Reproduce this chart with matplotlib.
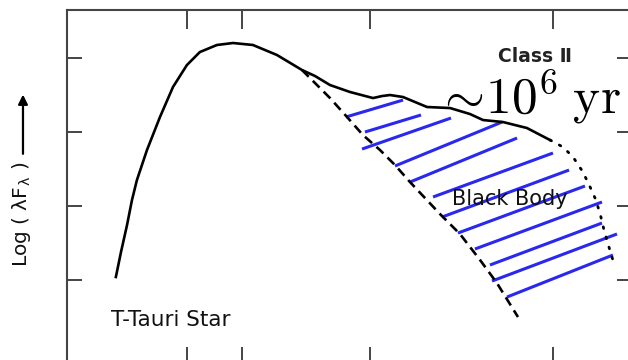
import matplotlib
matplotlib.use("Agg")
import matplotlib.pyplot as plt
import numpy as np

plt.rcParams["mathtext.fontset"] = "cm"

# observed T-Tauri SED (log wavelength in micron, log lambda*F_lambda, arbitrary offset)
sed_logl = [-0.689, -0.661, -0.628, -0.601, -0.574, -0.519, -0.448, -0.377, -0.301, -0.230,
            -0.137, -0.049, 0.060, 0.191, 0.328, 0.399, 0.481, 0.590, 0.716, 0.765,
            0.809, 0.880, 1.011, 1.137, 1.246, 1.317, 1.426, 1.557, 1.683]
sed_flux = [0.041, 0.378, 0.743, 1.081, 1.351, 1.757, 2.203, 2.608, 2.905, 3.081,
            3.176, 3.203, 3.176, 3.041, 2.838, 2.757, 2.635, 2.541, 2.459, 2.486,
            2.500, 2.473, 2.338, 2.324, 2.243, 2.162, 2.135, 2.054, 1.892]

# extrapolated long-wavelength tail
tail_logl = [1.683, 1.754, 1.809, 1.863, 1.902, 1.929, 1.956, 1.978, 2.005, 2.038]
tail_flux = [1.892, 1.797, 1.662, 1.459, 1.257, 1.108, 0.905, 0.676, 0.446, 0.176]

# stellar photosphere (black body)
bb_logl = [0.328, 0.481, 0.574, 0.661, 0.754, 0.836, 0.918, 1.000, 1.082, 1.191,
           1.301, 1.393, 1.508]
bb_flux = [2.838, 2.459, 2.203, 1.959, 1.757, 1.554, 1.324, 1.108, 0.892, 0.622,
           0.270, -0.041, -0.500]

# infrared excess hatching: start/end of each stroke
hatch_x0 = [0.568, 0.672, 0.656, 0.836, 0.918, 1.044, 1.093, 1.180, 1.273, 1.355, 1.366, 1.448]
hatch_y0 = [2.203, 2.000, 1.770, 1.541, 1.324, 1.122, 0.851, 0.635, 0.419, 0.203, -0.014, -0.230]
hatch_x1 = [0.880, 0.978, 1.142, 1.421, 1.503, 1.699, 1.787, 1.874, 1.967, 1.967, 2.049, 2.027]
hatch_y1 = [2.432, 2.230, 2.189, 2.135, 1.919, 1.716, 1.486, 1.270, 1.054, 0.770, 0.622, 0.338]

wavelength_ticks = [0.5, 1, 5, 50]
flux_ticks = [0, 1, 2, 3]

fig = plt.figure(figsize=(6.28, 3.6), dpi=100)
ax = fig.add_axes([67 / 628, -6 / 360, 565 / 628, 356 / 360])
ax.set_xlim(-0.956, 2.131)
ax.set_ylim(-1.162, 3.649)

for sp in ax.spines.values():
    sp.set_color("#444444")
    sp.set_linewidth(1.5)

ax.set_xticks(np.log10(wavelength_ticks))
ax.set_yticks(flux_ticks)
ax.tick_params(axis="both", direction="in", top=True, right=True,
               labelbottom=False, labelleft=False, color="#444444", width=1.4)
ax.tick_params(axis="x", length=13.5)
ax.tick_params(axis="y", length=10.5)

for x0, y0, x1, y1 in zip(hatch_x0, hatch_y0, hatch_x1, hatch_y1):
    ax.plot([x0, x1], [y0, y1], color="#2828f0", lw=2.2, solid_capstyle="butt", zorder=2)

ax.plot(sed_logl, sed_flux, color="black", lw=1.9, zorder=3)
ax.plot(bb_logl, bb_flux, color="black", lw=1.9, dashes=(3.6, 2.2), zorder=3)
ax.plot(tail_logl, tail_flux, color="black", lw=2.0, linestyle=(0, (0.6, 3.2)),
        dash_capstyle="round", zorder=3)

ax.text(1.601, 3.014, "Class \u2161", fontsize=13.5, ha="center", va="center",
        color="#222222", fontweight="bold", family=["DejaVu Sans"])
ax.text(1.052, 2.250, r"$\sim\!10^6\;\mathrm{yr}$", fontsize=37, ha="left",
        va="baseline", color="black", zorder=4)
ax.text(1.464, 1.095, "Black Body", fontsize=15, ha="center", va="center",
        color="#111111", zorder=4)
ax.text(-0.388, -0.547, "T-Tauri Star", fontsize=15.5, ha="center", va="center",
        color="#111111")

fig.text(0.035, 0.405, "Log ( λF$_{\\mathregular{λ}}$ )", rotation=90, fontsize=14.5,
         ha="center", va="center", color="#111111")
ax.annotate("", xy=(0.0366, 0.745), xycoords="figure fraction",
            xytext=(0.0366, 0.565), textcoords="figure fraction",
            arrowprops=dict(arrowstyle="-|>", color="black", lw=1.6,
                            mutation_scale=14))

fig.savefig("out.png", dpi=100)
